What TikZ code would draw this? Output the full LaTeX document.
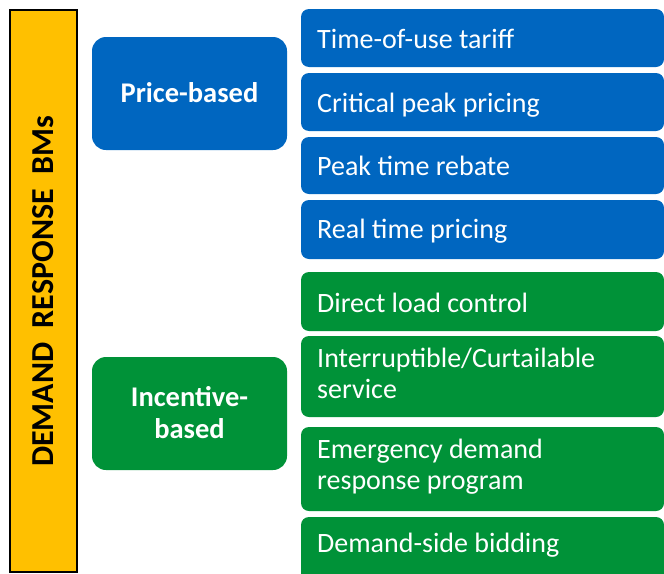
\documentclass[tikz,border=0pt]{standalone}
\usepackage{fontspec}
\setmainfont{Carlito}
\definecolor{drblue}{RGB}{0,102,192}
\definecolor{drgreen}{RGB}{0,146,56}
\definecolor{dryellow}{RGB}{255,192,0}
\begin{document}
\begin{tikzpicture}[x=1pt,y=-1pt,
  catbox/.style={fill=#1, draw=none, rounded corners=14pt},
  itembox/.style={fill=#1, draw=none, rounded corners=8pt},
  catlabel/.style={text=white, align=center, inner sep=0pt, anchor=base,
    font=\bfseries\fontsize{28.5}{32}\selectfont}]
\useasboundingbox (0,0) rectangle (664,573);
\clip (0,0) rectangle (664,573);

% vertical title bar
\path[fill=dryellow, draw=black, line width=2.5pt] (10,10) rectangle (77,572);
\node[rotate=90, inner sep=0pt, font=\bfseries\fontsize{32}{36}\selectfont] (title) at (43.5,291.5)
  {DEMAND\ \ RESPONSE\ \ BMs};

% programme categories (base anchor sits on the last line)
\path[catbox=drblue] (92,37) rectangle (287,150);
\node[catlabel] (price) at (189.5,102) {Price-based};
\path[catbox=drgreen] (92,357) rectangle (287,470);
\node[catlabel] (incent) at (189.5,438) {Incentive-\\based};

% price-based programmes
\path[itembox=drblue] (301,9) rectangle (664,67);
\path[itembox=drblue] (301,73) rectangle (664,131);
\path[itembox=drblue] (301,137) rectangle (664,194);
\path[itembox=drblue] (301,200) rectangle (664,259);
% incentive-based programmes
\path[itembox=drgreen] (301,272) rectangle (664,331);
\path[itembox=drgreen] (301,336) rectangle (664,417);
\path[itembox=drgreen] (301,427) rectangle (664,511);
\path[itembox=drgreen] (301,517) rectangle (664,590);

\begin{scope}[every node/.style={anchor=base west, text=white, font=\fontsize{28}{31}\selectfont, align=left, inner sep=0pt}]
\node (tou) at (317,48) {Time-of-use tariff};
\node (cpp) at (317,112) {Critical peak pricing};
\node (ptr) at (317,175) {Peak time rebate};
\node (rtp) at (317,238) {Real time pricing};
\node (dlc) at (317,312) {Direct load control};
\node (ics) at (317,398) {Interruptible/Curtailable\\service};
\node (edr) at (317,489) {Emergency demand\\response program};
\node (dsb) at (317,552) {Demand-side bidding};
\end{scope}
\end{tikzpicture}
\end{document}
